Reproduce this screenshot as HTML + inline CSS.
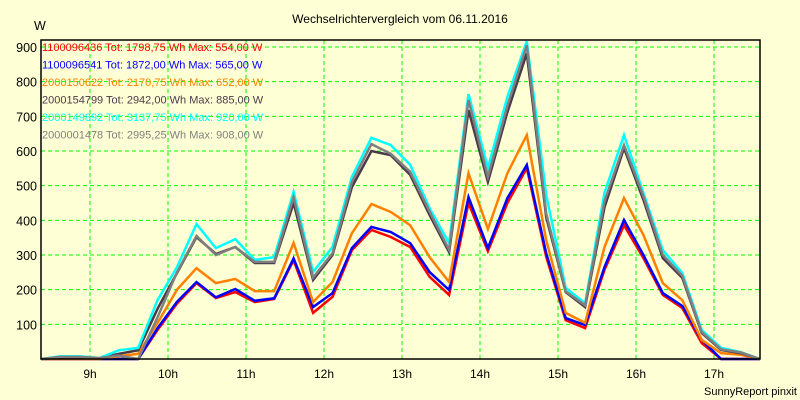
<!DOCTYPE html>
<html><head><meta charset="utf-8"><style>
body{margin:0;background:#ffffd5;}
svg{display:block;font-family:"Liberation Sans",sans-serif;}
</style></head><body>
<svg id="chart" width="800" height="400">
<rect x="0" y="0" width="800" height="400" fill="#ffffd5"/>
<text x="400" y="23" text-anchor="middle" font-size="12">Wechselrichtervergleich vom 06.11.2016</text>
<text x="34" y="30" font-size="12.5">W</text>
<text x="797" y="395" text-anchor="end" font-size="11">SunnyReport pinxit</text>
<g id="grid"></g>
<g id="yticks"></g>
<g id="xticks"></g>
<g id="series"></g>
<rect x="41" y="40" width="719" height="319" fill="none" stroke="#000" stroke-width="1.5"/>
<g id="legend"></g>
</svg>
<script>
const yTicks=[100,200,300,400,500,600,700,800,900];
const hourLabels=["9h","10h","11h","12h","13h","14h","15h","16h","17h"];
const hours=[9,10,11,12,13,14,15,16,17];
const red=[0,0,0,0,0,0,84,160,219,176,193,164,173,285,133,179,314,372,352,323,237,185,450,311,450,551,295,112,89,257,386,291,185,147,46,0,0,0];
const blue=[0,0,0,0,0,0,89,165,222,178,202,168,175,290,150,190,320,381,366,334,251,199,467,320,464,560,305,118,98,265,401,300,190,153,55,0,0,0];
const orange=[0,0,0,0,8,15,104,200,262,219,231,196,196,335,164,222,363,447,424,386,294,222,536,375,536,646,343,133,104,323,464,358,219,170,55,17,12,0];
const dark=[0,5,5,2,15,25,145,248,352,303,323,277,277,450,228,300,496,600,588,531,415,308,718,511,712,882,409,193,150,438,608,459,291,234,75,26,17,0];
const cyan=[0,8,8,3,25,32,170,265,389,320,346,286,294,482,251,323,525,638,617,560,435,334,764,551,756,917,473,205,161,479,646,479,314,248,84,32,20,0];
const gray=[0,6,6,3,10,0,121,250,355,300,323,280,280,467,235,305,510,620,592,540,425,315,747,525,730,905,420,195,155,455,617,470,300,240,78,28,19,0];
const names=["1100096436 Tot: 1798,75 Wh Max: 554,00 W","1100096541 Tot: 1872,00 Wh Max: 565,00 W","2000150622 Tot: 2170,75 Wh Max: 652,00 W","2000154799 Tot: 2942,00 Wh Max: 885,00 W","2000149892 Tot: 3137,75 Wh Max: 920,00 W","2000001478 Tot: 2995,25 Wh Max: 908,00 W"];
const NS="http://www.w3.org/2000/svg";
const L=41,R=760,T=40,B=359;
function yScale(v){return B-v*(B-47)/900;}
function xIdx(i,n){return L+i*(R-L)/(n-1);}
function xHour(h){return 90+(h-9)*78;}
function mk(tag,attrs,parent){const e=document.createElementNS(NS,tag);for(const k in attrs)e.setAttribute(k,attrs[k]);parent.appendChild(e);return e;}
const grid=document.getElementById('grid'),yt=document.getElementById('yticks'),xt=document.getElementById('xticks');
yTicks.forEach(v=>{
 const y=yScale(v);
 const g=mk('line',{x1:L,x2:R,y1:y,y2:y,stroke:'#00ff00','stroke-width':1,'stroke-dasharray':'4,3'},grid);
 
 
 const t=mk('text',{x:37,y:y+5,'text-anchor':'end','font-size':12.5},yt);
 t.textContent=v;
 
 
});
hours.forEach((h,i)=>{
 const x=xHour(h);
 const g=mk('line',{x1:x,x2:x,y1:T,y2:B,stroke:'#00ff00','stroke-width':1,'stroke-dasharray':'4,3'},grid);
 
 
 const t=mk('text',{x:x,y:378,'text-anchor':'middle','font-size':12},xt);
 t.textContent=hourLabels[i];
 
 
});
const series=[[red,'#ff0000','series-1100096436'],[blue,'#0000ff','series-1100096541'],[orange,'#ff8000','series-2000150622'],[dark,'#4a3a4a','series-2000154799'],[cyan,'#00ffff','series-2000149892'],[gray,'#808080','series-2000001478']];
const sg=document.getElementById('series');
series.forEach(s=>{
 const d=s[0].map((v,i)=>(i?'L':'M')+xIdx(i,s[0].length).toFixed(1)+','+yScale(v).toFixed(1)).join(' ');
 const p=mk('path',{d:d,fill:'none',stroke:s[1],'stroke-width':2.5,'stroke-linejoin':'miter'},sg);
 
 
});
const lg=document.getElementById('legend');
names.forEach((n,i)=>{
 const t=mk('text',{x:42,y:51+i*17.5,'font-size':11,fill:series[i][1]},lg);
 t.textContent=n;
 
 
});
</script>
</body></html>
